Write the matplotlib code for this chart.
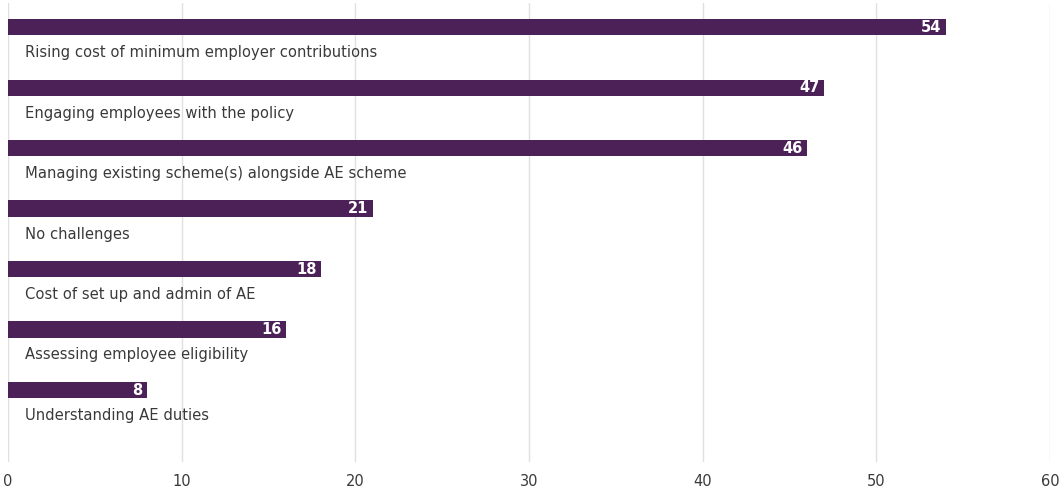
import matplotlib.pyplot as plt

categories = [
    "Rising cost of minimum employer contributions",
    "Engaging employees with the policy",
    "Managing existing scheme(s) alongside AE scheme",
    "No challenges",
    "Cost of set up and admin of AE",
    "Assessing employee eligibility",
    "Understanding AE duties",
]
values = [54, 47, 46, 21, 18, 16, 8]
ticks = [0, 10, 20, 30, 40, 50, 60]

bar_color = "#4b2158"
text_color = "#3a3a3a"

plt.rcParams["font.family"] = ["DejaVu Sans"]

fig = plt.figure(figsize=(10.61, 5.01), dpi=100)
ax = fig.add_axes([8 / 1061, 39 / 501, 1042 / 1061, 459 / 501])

pos = list(range(len(values)))
ax.barh(pos, values, height=0.27, color=bar_color, zorder=2)

for i, (cat, v) in enumerate(zip(categories, values)):
    # value at the inner end of the bar
    ax.annotate(str(v), xy=(v, i), xytext=(-3, 0), textcoords="offset points",
                ha="right", va="center", color="white", fontsize=10.5,
                fontweight="bold", zorder=3)
    # category name underneath
    ax.annotate(cat, xy=(0, i + 0.42), xytext=(12, 0), textcoords="offset points",
                ha="left", va="center", color=text_color, fontsize=10.6,
                zorder=3)

ax.set_xlim(0, 60)
ax.set_ylim(7.19, -0.4)
ax.set_xticks(ticks)
ax.set_xticklabels([str(t) for t in ticks], color=text_color, fontsize=10.5)
ax.set_yticks([])
ax.tick_params(axis="x", length=0, pad=9)
ax.xaxis.grid(True, color="#e0e0e0", linewidth=1, zorder=0)
for s in ax.spines.values():
    s.set_visible(False)

fig.savefig("out.png", dpi=100)
